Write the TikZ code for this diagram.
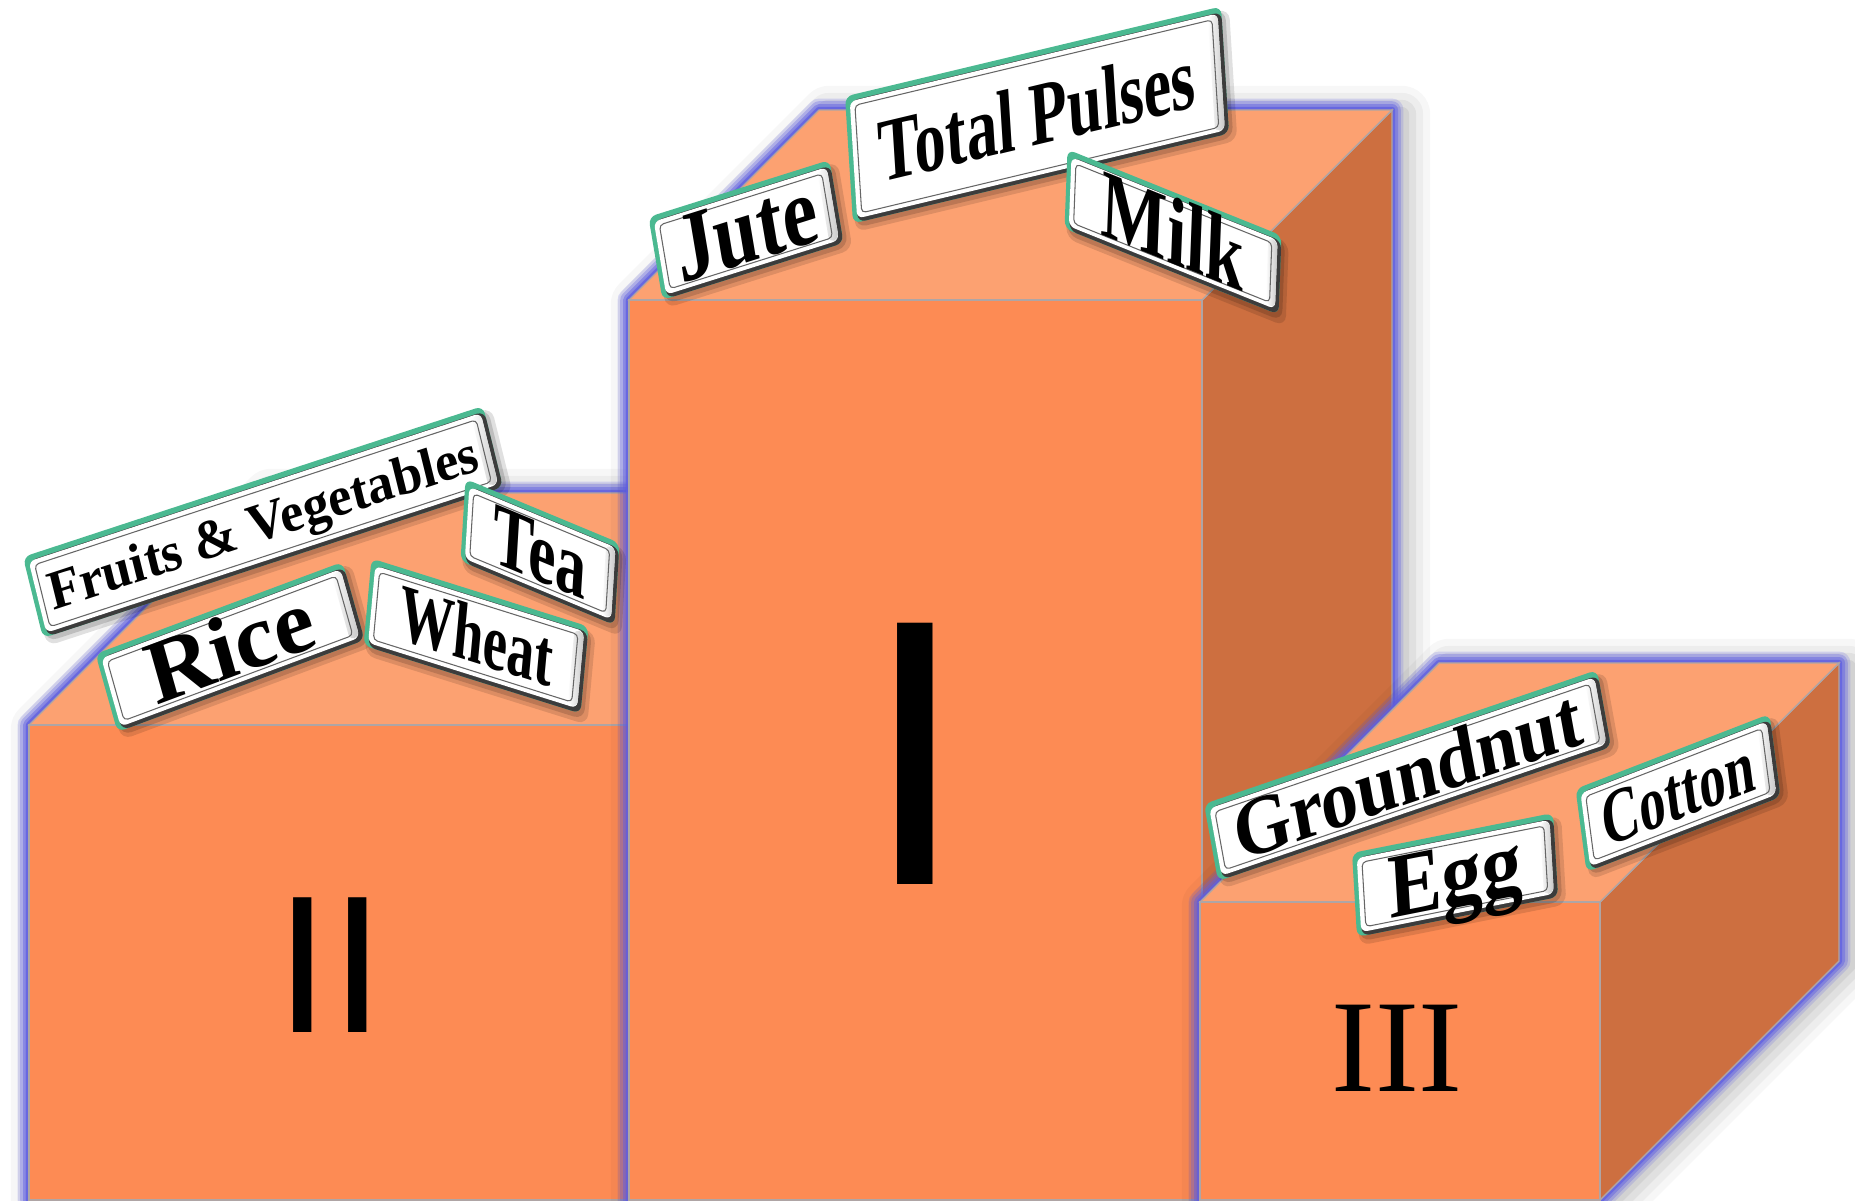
\documentclass[tikz,border=0pt]{standalone}
\usepackage{fontspec}
\setmainfont{Liberation Serif}
\newfontfamily\arialfont{Liberation Sans}
\definecolor{frontc}{RGB}{253,139,84}
\definecolor{topc}{RGB}{252,161,113}
\definecolor{sidec}{RGB}{205,111,64}
\definecolor{edgec}{RGB}{175,165,165}
\definecolor{glowc}{RGB}{95,95,225}
\definecolor{tilegreen}{RGB}{75,185,145}
\definecolor{tileshadow}{RGB}{60,60,60}

\newcommand\tileset[6]{%
 \pgfmathsetmacro\tlL{veclen(#3,#4)}%
 \pgfmathsetmacro\tlH{veclen(#5,#6)}%
 \pgfmathsetmacro\tlA{(#3)/\tlL}%
 \pgfmathsetmacro\tlB{-(#4)/\tlL}%
 \pgfmathsetmacro\tlC{(#5)/\tlH}%
 \pgfmathsetmacro\tlD{-(#6)/\tlH}%
 \pgfmathsetmacro\tlX{#1-0.5*(#3)-0.5*(#5)}%
 \pgfmathsetmacro\tlY{1200-(#2-0.5*(#4)-0.5*(#6))}%
}
\newcommand\tiledraw[5]{%
 \begin{scope}[shift={(\tlX,\tlY)}, cm={\tlA,\tlB,\tlC,\tlD,(0,0)}]
  \fill[black, opacity=0.12, rounded corners=3pt] (2,-9) rectangle (\tlL+8,\tlH-4);
  \fill[black, opacity=0.15, rounded corners=3pt] (3,-5) rectangle (\tlL+4,\tlH-4);
  \fill[tilegreen, rounded corners=2.2pt] (0,0) rectangle (\tlL,\tlH);
  \fill[tileshadow, rounded corners=2.2pt] (5,0) rectangle (\tlL,\tlH-5.5);
  \fill[white, rounded corners=1.8pt] (4.5,4) rectangle (\tlL-4,\tlH-6);
  \shade[left color=white, right color=black!22, rounded corners=1.5pt] (\tlL-14,5) rectangle (\tlL-4,\tlH-7);
  \draw[black!60, line width=0.3pt, rounded corners=1.2pt] (9.5,8.5) rectangle (\tlL-10,\tlH-11);
  \node[transform shape, inner sep=0, anchor=base, xscale=#3,
        font=\fontsize{#2}{#2}\selectfont\bfseries] (#1) at (\tlL/2, {(\tlH-#5)/2}) {#4};
 \end{scope}}

\newcommand\silII[1]{\draw[#1] (29,0)--(29,475)--(261,707)--(861,707)--(861,232)--(629,0)--cycle;}
\newcommand\silI[1]{\draw[#1] (629,0)--(629,900)--(819,1090)--(1392,1090)--(1392,190)--(1202,0)--cycle;}
\newcommand\silIII[1]{\draw[#1] (1200,0)--(1200,298)--(1439,537)--(1839,537)--(1839,239)--(1600,0)--cycle;}

\begin{document}
\begin{tikzpicture}[x=0.01cm,y=0.01cm]
\clip (0,0) rectangle (1855,1200);
\fill[white] (0,0) rectangle (1855,1200);

% ---- box II ----
\foreach \w/\o in {16/0.03,12/0.04,8/0.05,4/0.06}{\silII{black, opacity=\o, line width=\w pt, line join=round, shift={(10,-4)}}}
\foreach \w/\o in {6.5/0.2,5/0.3,3.4/0.45,1.8/0.75}{\silII{glowc, opacity=\o, line width=\w pt, line join=round}}
\filldraw[fill=sidec, draw=edgec, line width=0.4pt] (629,475)--(861,707)--(861,232)--(629,0)--cycle;
\filldraw[fill=topc, draw=edgec, line width=0.4pt] (29,475)--(629,475)--(861,707)--(261,707)--cycle;
\filldraw[fill=frontc, draw=edgec, line width=0.4pt] (29,0) rectangle (629,475);
\node[font=\arialfont\fontsize{55.7}{55.7}\selectfont, inner sep=0, anchor=base] (numII) at (330,167) {II};

% ---- box I ----
\foreach \w/\o in {16/0.03,12/0.04,8/0.05,4/0.06}{\silI{black, opacity=\o, line width=\w pt, line join=round, shift={(10,-4)}}}
\foreach \w/\o in {6.5/0.2,5/0.3,3.4/0.45,1.8/0.75}{\silI{glowc, opacity=\o, line width=\w pt, line join=round}}
\filldraw[fill=sidec, draw=edgec, line width=0.4pt] (1202,900)--(1392,1090)--(1392,190)--(1202,0)--cycle;
\filldraw[fill=topc, draw=edgec, line width=0.4pt] (629,900)--(1202,900)--(1392,1090)--(819,1090)--cycle;
\filldraw[fill=frontc, draw=edgec, line width=0.4pt] (629,0) rectangle (1202,900);
\node[font=\arialfont\fontsize{108}{108}\selectfont, inner sep=0, anchor=base] (numI) at (915,315) {I};

% ---- box III ----
\foreach \w/\o in {16/0.03,12/0.04,8/0.05,4/0.06}{\silIII{black, opacity=\o, line width=\w pt, line join=round, shift={(10,-4)}}}
\foreach \w/\o in {6.5/0.2,5/0.3,3.4/0.45,1.8/0.75}{\silIII{glowc, opacity=\o, line width=\w pt, line join=round}}
\filldraw[fill=sidec, draw=edgec, line width=0.4pt] (1600,298)--(1839,537)--(1839,239)--(1600,0)--cycle;
\filldraw[fill=topc, draw=edgec, line width=0.4pt] (1200,298)--(1600,298)--(1839,537)--(1439,537)--cycle;
\filldraw[fill=frontc, draw=edgec, line width=0.4pt] (1200,0) rectangle (1600,298);
\node[font=\fontsize{37.5}{37.5}\selectfont, inner sep=0, anchor=base] (numIII) at (1397,109) {III};

% ---- tiles ----
\tileset{263}{522}{460}{-151}{-20}{-81}\tiledraw{fruits}{15.6}{0.97}{Fruits \& Vegetables}{37}
\tileset{540}{552}{154}{64}{5}{-82}\tiledraw{tea}{25}{0.75}{Tea}{58}
\tileset{230}{647}{247}{-92}{-22}{-78}\tiledraw{rice}{25.5}{1.03}{Rice}{59}
\tileset{476}{636}{217}{68}{8}{-87}\tiledraw{wheat}{23}{0.7}{Wheat}{54}
\tileset{746}{230}{181}{-57}{-14}{-83}\tiledraw{jute}{27.9}{0.82}{Jute}{64}
\tileset{1037}{115}{376}{-90}{-8}{-127}\tiledraw{pulses}{25.5}{0.71}{Total Pulses}{60}
\tileset{1173}{232}{214}{86}{3}{-79}\tiledraw{milk}{27.5}{0.77}{Milk}{63}
\tileset{1407.5}{775.5}{393}{-134}{-14}{-77}\tiledraw{groundnut}{23.5}{0.92}{Groundnut}{55}
\tileset{1455}{875}{201}{-40}{-5}{-84}\tiledraw{egg}{25.9}{0.89}{Egg}{60}
\tileset{1678}{793}{194}{-75}{-11}{-83}\tiledraw{cotton}{21.8}{0.72}{Cotton}{51}
\end{tikzpicture}
\end{document}
